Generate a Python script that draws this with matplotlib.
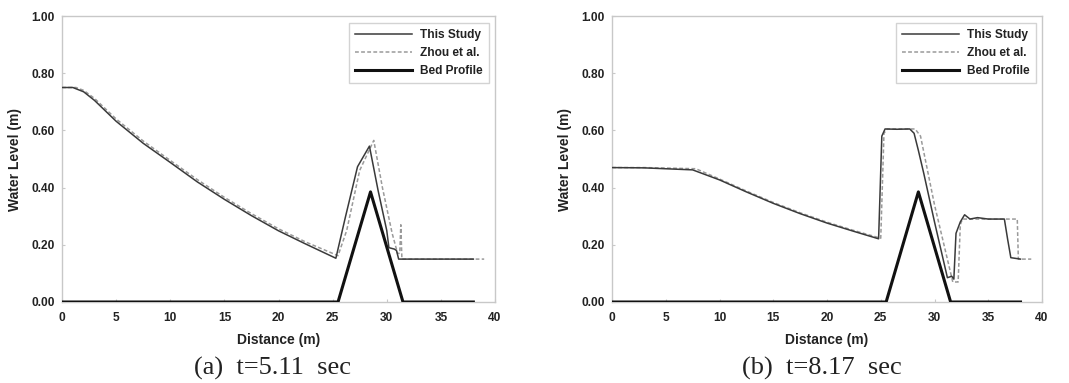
import matplotlib
matplotlib.use("Agg")
import matplotlib.pyplot as plt

# Panel (a) t=5.11 sec
a_study_x = [0, 1.0, 2.0, 3.0, 5.0, 7.5, 10.0, 12.5, 15.0, 17.5, 20.0, 22.5, 25.3, 26.2, 27.3, 28.4, 29.2, 30.0, 30.2, 30.7, 30.9, 31.1, 38.0]
a_study_y = [0.75, 0.75, 0.735, 0.705, 0.632, 0.555, 0.488, 0.42, 0.359, 0.302, 0.249, 0.203, 0.153, 0.30, 0.473, 0.545, 0.39, 0.25, 0.19, 0.185, 0.18, 0.15, 0.15]
a_zhou_x = [0, 1.3, 2.0, 3.0, 5.0, 7.5, 10.0, 12.5, 15.0, 17.5, 20.0, 22.5, 25.5, 26.3, 27.5, 28.8, 29.6, 30.5, 31.0, 31.2, 31.3, 31.4, 39.0]
a_zhou_y = [0.75, 0.75, 0.74, 0.712, 0.64, 0.563, 0.495, 0.428, 0.366, 0.309, 0.256, 0.21, 0.162, 0.25, 0.46, 0.565, 0.40, 0.24, 0.17, 0.17, 0.27, 0.15, 0.15]

# Panel (b) t=8.17 sec
b_study_x = [0, 3.0, 7.5, 10.0, 12.5, 15.0, 17.5, 20.0, 22.5, 24.8, 25.1, 25.4, 26.5, 27.7, 28.1, 28.5, 29.0, 30.0, 31.2, 31.6, 31.8, 32.0, 32.4, 32.8, 33.3, 34.0, 35.0, 36.5, 36.8, 37.1, 38.0]
b_study_y = [0.47, 0.469, 0.462, 0.427, 0.385, 0.345, 0.309, 0.276, 0.247, 0.221, 0.58, 0.605, 0.604, 0.605, 0.59, 0.53, 0.45, 0.28, 0.085, 0.09, 0.08, 0.24, 0.28, 0.305, 0.29, 0.295, 0.29, 0.29, 0.22, 0.155, 0.15]
b_zhou_x = [0, 3.0, 7.8, 10.0, 12.5, 15.0, 17.5, 20.0, 22.5, 25.0, 25.3, 25.6, 27.0, 28.2, 28.7, 30.0, 31.7, 32.2, 32.4, 32.6, 34.0, 37.7, 37.8, 39.0]
b_zhou_y = [0.47, 0.47, 0.466, 0.43, 0.388, 0.348, 0.312, 0.279, 0.25, 0.223, 0.59, 0.605, 0.605, 0.605, 0.58, 0.34, 0.07, 0.07, 0.27, 0.29, 0.29, 0.29, 0.15, 0.15]

# Bed profile (same in both panels)
bed_x = [0, 25.5, 28.5, 31.5, 38.0]
bed_y = [0.0, 0.0, 0.385, 0.0, 0.0]

x_ticks = [0, 5, 10, 15, 20, 25, 30, 35, 40]
y_ticks = [0.0, 0.2, 0.4, 0.6, 0.8, 1.0]
captions = ["(a)  t=5.11  sec", "(b)  t=8.17  sec"]

plt.rcParams['font.family'] = ['Liberation Sans', 'DejaVu Sans']

fig = plt.figure(figsize=(10.69, 3.83), dpi=100)
W, H = 1069, 383
# axes rectangles in pixels: left, right, top, bottom
rects = [(62, 495, 16, 302), (612, 1042, 16, 302)]
caption_x = [272, 822]
panels = [
    (a_study_x, a_study_y, a_zhou_x, a_zhou_y),
    (b_study_x, b_study_y, b_zhou_x, b_zhou_y),
]
for i, ((l, r, t, b), (sx, sy, zx, zy)) in enumerate(zip(rects, panels)):
    ax = fig.add_axes([l / W, 1 - b / H, (r - l) / W, (b - t) / H])
    ax.plot(sx, sy, color='#3a3a3a', lw=1.1, label='This Study', zorder=3)
    ax.plot(zx, zy, color='#9a9a9a', lw=1.1, ls=(0, (2.5, 1.5)), label='Zhou et al.', zorder=2)
    ax.plot(bed_x, bed_y, color='#111111', lw=2.2, label='Bed Profile', zorder=4)
    ax.set_xlim(0, 40)
    ax.set_ylim(0, 1.0)
    ax.set_xticks(x_ticks)
    ax.set_yticks(y_ticks)
    ax.set_yticklabels([f"{v:.2f}" for v in y_ticks])
    for s in ax.spines.values():
        s.set_color('#c8c8c8')
        s.set_linewidth(1.0)
    ax.tick_params(direction='in', length=2, color='#c8c8c8', labelsize=8.6)
    ax.tick_params(axis='x', pad=7)
    ax.tick_params(axis='y', pad=5)
    for lab in ax.get_xticklabels() + ax.get_yticklabels():
        lab.set_fontweight('bold')
        lab.set_color('#222222')
    ax.set_xlabel('Distance (m)', fontsize=10, fontweight='bold', color='#222222', labelpad=7)
    ax.set_ylabel('Water Level (m)', fontsize=10, fontweight='bold', color='#222222', labelpad=7)
    leg = ax.legend(loc='upper right', bbox_to_anchor=(0.985, 0.975), fontsize=8.6, frameon=True,
                    fancybox=False, edgecolor='#c8c8c8', handlelength=4.8, handletextpad=0.65,
                    borderpad=0.5, labelspacing=0.5, borderaxespad=0)
    leg.get_frame().set_linewidth(1.0)
    for txt in leg.get_texts():
        txt.set_fontweight('bold')
        txt.set_color('#222222')
    fig.text(caption_x[i] / W, 1 - 368 / H, captions[i], ha='center', va='center',
             fontsize=19, family=['Liberation Serif', 'DejaVu Serif'], color='#222222')

fig.savefig('out.png', dpi=100, facecolor='white')
